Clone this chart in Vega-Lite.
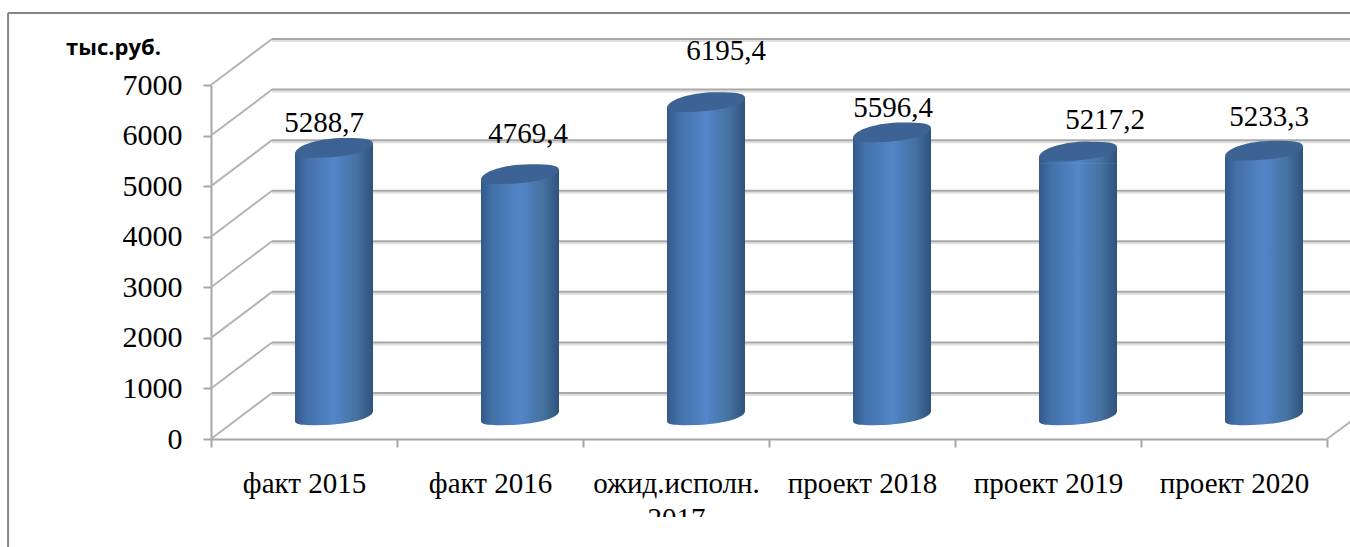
{"$schema":"https://vega.github.io/schema/vega-lite/v6.json","width":1116,"height":354,"padding":{"left":211,"top":85,"right":23,"bottom":108},"autosize":"none","background":"white","config":{"view":{"stroke":null},"text":{"font":"Liberation Serif"}},
"datasets":{"bars":[{"cat":"факт 2015","value":5288.7,"label":"5288,7"},{"cat":"факт 2016","value":4769.4,"label":"4769,4"},{"cat":"ожид.исполн. 2017","value":6195.4,"label":"6195,4"},{"cat":"проект 2018","value":5596.4,"label":"5596,4"},{"cat":"проект 2019","value":5217.2,"label":"5217,2"},{"cat":"проект 2020","value":5233.3,"label":"5233,3"}],"ticks":[{"v":0},{"v":1000},{"v":2000},{"v":3000},{"v":4000},{"v":5000},{"v":6000},{"v":7000}]},
"resolve":{"scale":{"x":"independent"},"axis":{"x":"independent"}},
"layer":[
{"data":{"name":"ticks"},"mark":{"type":"rule","stroke":"#dedede","strokeWidth":2,"yOffset":-44,"y2Offset":-44},"encoding":{"x":{"datum":0.328,"type":"quantitative","scale":{"domain":[0,6],"range":[0,1116]},"axis":null},"x2":{"datum":6.13},"y":{"field":"v","type":"quantitative","scale":{"domain":[0,7000],"nice":false},"axis":{"values":[0,1000,2000,3000,4000,5000,6000,7000],"format":"d","grid":false,"title":"тыс.руб.","titleFont":"Open Sans","titleFontWeight":"bold","titleFontSize":22,"titleAngle":0,"titleAlign":"center","titleBaseline":"middle","titleX":-98,"titleY":-38,"titleColor":"#000","labelFont":"Liberation Serif","labelFontSize":30,"labelColor":"#000","labelPadding":21,"tickSize":8,"tickColor":"#a6a6a6","tickWidth":2,"domainColor":"#a6a6a6","domainWidth":2}}}},
{"data":{"name":"ticks"},"mark":{"type":"rule","stroke":"#a8a8a8","strokeWidth":2,"yOffset":-46,"y2Offset":-46},"encoding":{"x":{"datum":0.328,"type":"quantitative","scale":{"domain":[0,6],"range":[0,1116]},"axis":null},"x2":{"datum":6.13},"y":{"field":"v","type":"quantitative"}}},
{"data":{"name":"ticks"},"mark":{"type":"rule","stroke":"#b4b4b4","strokeWidth":2,"yOffset":0,"y2Offset":-46},"encoding":{"x":{"datum":0,"type":"quantitative","scale":{"domain":[0,6],"range":[0,1116]},"axis":null},"x2":{"datum":0.328},"y":{"field":"v","type":"quantitative"},"y2":{"field":"v"}}},
{"data":{"name":"ticks"},"transform":[{"filter":"datum.v===0"}],"mark":{"type":"rule","stroke":"#b4b4b4","strokeWidth":2,"yOffset":0,"y2Offset":-18},"encoding":{"x":{"datum":6,"type":"quantitative","scale":{"domain":[0,6],"range":[0,1116]},"axis":null},"x2":{"datum":6.13},"y":{"field":"v","type":"quantitative"},"y2":{"field":"v"}}},
{"data":{"name":"ticks"},"transform":[{"filter":"datum.v===0"}],"mark":{"type":"rule","stroke":"#868686","strokeWidth":2},"encoding":{"x":{"datum":-1.091,"type":"quantitative","scale":{"domain":[0,6],"range":[0,1116]},"axis":null},"x2":{"datum":6.13},"y":{"datum":8424,"type":"quantitative"}}},
{"data":{"name":"ticks"},"transform":[{"filter":"datum.v===0"}],"mark":{"type":"rule","stroke":"#868686","strokeWidth":2},"encoding":{"x":{"datum":-1.091,"type":"quantitative","scale":{"domain":[0,6],"range":[0,1116]},"axis":null},"y":{"datum":8424,"type":"quantitative"},"y2":{"datum":-2136}}},
{"data":{"name":"bars"},"mark":{"type":"point","filled":true,"opacity":1,"strokeWidth":0,"size":6084,"xOffset":30,"yOffset":-23,"shape":"M-1,.13 C-.98,-.1 -.3,-.28 .3,-.27 C.75,-.27 1,-.24 1,-.13 C1,.08 .3,.22 -.3,.23 C-.7,.24 -1,.25 -1,.13 Z","fill":{"x1":0,"y1":0,"x2":1,"y2":0,"gradient":"linear","stops":[{"offset":0,"color":"#33598c"},{"offset":0.15,"color":"#4270a8"},{"offset":0.5,"color":"#5385c9"},{"offset":0.8,"color":"#44719f"},{"offset":1,"color":"#2f527c"}]}},"encoding":{"x":{"field":"cat","type":"nominal","sort":null,"scale":{"type":"band"},"axis":null},"y":{"datum":0,"type":"quantitative"}}},
{"data":{"name":"bars"},"mark":{"type":"point","filled":true,"opacity":1,"strokeWidth":0,"size":6084,"xOffset":30,"yOffset":-23,"shape":"M-1,-.3 L1,-.3 L1,-.13 L-1,.13 Z","fill":{"x1":0,"y1":0,"x2":1,"y2":0,"gradient":"linear","stops":[{"offset":0,"color":"#33598c"},{"offset":0.15,"color":"#4270a8"},{"offset":0.5,"color":"#5385c9"},{"offset":0.8,"color":"#44719f"},{"offset":1,"color":"#2f527c"}]}},"encoding":{"x":{"field":"cat","type":"nominal","sort":null,"scale":{"type":"band"},"axis":null},"y":{"datum":0,"type":"quantitative"}}},
{"data":{"name":"bars"},"mark":{"type":"bar","width":78,"xOffset":30,"yOffset":-12,"y2Offset":-12,"fill":{"x1":0,"y1":0,"x2":1,"y2":0,"gradient":"linear","stops":[{"offset":0,"color":"#33598c"},{"offset":0.15,"color":"#4270a8"},{"offset":0.5,"color":"#5385c9"},{"offset":0.8,"color":"#44719f"},{"offset":1,"color":"#2f527c"}]}},"encoding":{"x":{"field":"cat","type":"nominal","sort":null,"scale":{"type":"band","paddingInner":0,"paddingOuter":0},"axis":{"title":null,"labelAngle":0,"labelFont":"Liberation Serif","labelFontSize":29,"labelColor":"#000","labelPadding":22,"labelLineHeight":35,"labelExpr":"datum.value==='ожид.исполн. 2017'?['ожид.исполн.','2017']:datum.value","labelLimit":0,"tickBand":"extent","tickSize":8,"tickColor":"#a6a6a6","tickWidth":2,"domainColor":"#a6a6a6","domainWidth":2,"labelBaseline":"top"}},"y":{"field":"value","type":"quantitative","stack":null},"y2":{"datum":435}}},
{"data":{"name":"bars"},"mark":{"type":"point","filled":true,"opacity":1,"strokeWidth":0,"size":6084,"xOffset":30,"yOffset":-23,"shape":"M-1,.13 L1,-.13 L1,.3 L-1,.3 Z","fill":{"x1":0,"y1":0,"x2":1,"y2":0,"gradient":"linear","stops":[{"offset":0,"color":"#33598c"},{"offset":0.15,"color":"#4270a8"},{"offset":0.5,"color":"#5385c9"},{"offset":0.8,"color":"#44719f"},{"offset":1,"color":"#2f527c"}]}},"encoding":{"x":{"field":"cat","type":"nominal","sort":null,"scale":{"type":"band"},"axis":null},"y":{"field":"value","type":"quantitative"}}},
{"data":{"name":"bars"},"mark":{"type":"point","filled":true,"opacity":1,"strokeWidth":0,"size":6084,"xOffset":30,"yOffset":-23,"fill":"#3c6393","shape":"M-1,.13 C-.98,-.1 -.3,-.28 .3,-.27 C.75,-.27 1,-.24 1,-.13 C1,.08 .3,.22 -.3,.23 C-.7,.24 -1,.25 -1,.13 Z"},"encoding":{"x":{"field":"cat","type":"nominal","sort":null,"scale":{"type":"band"},"axis":null},"y":{"field":"value","type":"quantitative"}}},
{"data":{"name":"ticks"},"transform":[{"filter":"datum.v===0"}],"mark":{"type":"rect","fill":"white"},"encoding":{"x":{"datum":2.2,"type":"quantitative","scale":{"domain":[0,6],"range":[0,1116]},"axis":null},"x2":{"datum":2.9},"y":{"datum":-1542,"type":"quantitative"},"y2":{"datum":-2136}}},
{"data":{"name":"bars"},"transform":[{"filter":"datum.label==='5288,7'"}],"mark":{"type":"text","fontSize":29,"dx":20,"dy":-49,"color":"#000"},"encoding":{"x":{"field":"cat","type":"nominal","scale":{"type":"band","domain":["факт 2015","факт 2016","ожид.исполн. 2017","проект 2018","проект 2019","проект 2020"]},"axis":null},"y":{"field":"value","type":"quantitative"},"text":{"field":"label"}}},
{"data":{"name":"bars"},"transform":[{"filter":"datum.label==='4769,4'"}],"mark":{"type":"text","fontSize":29,"dx":38,"dy":-64,"color":"#000"},"encoding":{"x":{"field":"cat","type":"nominal","scale":{"type":"band","domain":["факт 2015","факт 2016","ожид.исполн. 2017","проект 2018","проект 2019","проект 2020"]},"axis":null},"y":{"field":"value","type":"quantitative"},"text":{"field":"label"}}},
{"data":{"name":"bars"},"transform":[{"filter":"datum.label==='6195,4'"}],"mark":{"type":"text","fontSize":29,"dx":50,"dy":-75,"color":"#000"},"encoding":{"x":{"field":"cat","type":"nominal","scale":{"type":"band","domain":["факт 2015","факт 2016","ожид.исполн. 2017","проект 2018","проект 2019","проект 2020"]},"axis":null},"y":{"field":"value","type":"quantitative"},"text":{"field":"label"}}},
{"data":{"name":"bars"},"transform":[{"filter":"datum.label==='5596,4'"}],"mark":{"type":"text","fontSize":29,"dx":31,"dy":-48,"color":"#000"},"encoding":{"x":{"field":"cat","type":"nominal","scale":{"type":"band","domain":["факт 2015","факт 2016","ожид.исполн. 2017","проект 2018","проект 2019","проект 2020"]},"axis":null},"y":{"field":"value","type":"quantitative"},"text":{"field":"label"}}},
{"data":{"name":"bars"},"transform":[{"filter":"datum.label==='5217,2'"}],"mark":{"type":"text","fontSize":29,"dx":57,"dy":-55,"color":"#000"},"encoding":{"x":{"field":"cat","type":"nominal","scale":{"type":"band","domain":["факт 2015","факт 2016","ожид.исполн. 2017","проект 2018","проект 2019","проект 2020"]},"axis":null},"y":{"field":"value","type":"quantitative"},"text":{"field":"label"}}},
{"data":{"name":"bars"},"transform":[{"filter":"datum.label==='5233,3'"}],"mark":{"type":"text","fontSize":29,"dx":35,"dy":-57,"color":"#000"},"encoding":{"x":{"field":"cat","type":"nominal","scale":{"type":"band","domain":["факт 2015","факт 2016","ожид.исполн. 2017","проект 2018","проект 2019","проект 2020"]},"axis":null},"y":{"field":"value","type":"quantitative"},"text":{"field":"label"}}}
]}
